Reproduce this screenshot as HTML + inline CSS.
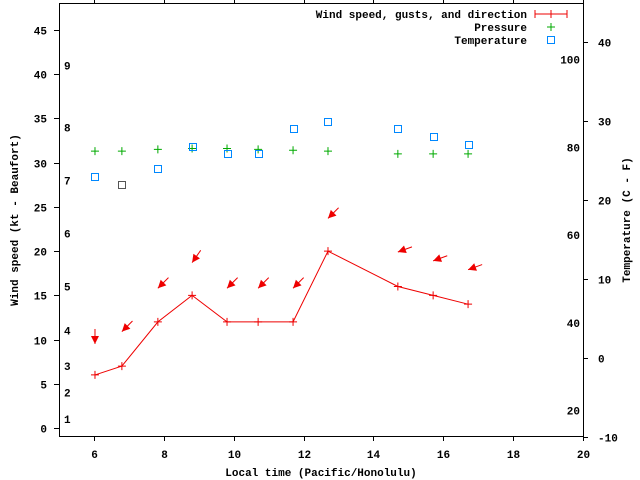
<!DOCTYPE html>
<html><head><meta charset="utf-8"><style>
body{margin:0;background:#fff}
svg{display:block}
text{font-family:"Liberation Mono",monospace;font-weight:bold;font-size:11px;fill:#000}
</style></head><body>
<svg id="chart" width="640" height="480">
<g id="axes"></g>
<g id="marks"></g>
<g id="legend">
<text x="527" y="18" text-anchor="end">Wind speed, gusts, and direction</text>
<line x1="535" y1="14" x2="567" y2="14" stroke="#e00"/>
<line x1="535" y1="10" x2="535" y2="18" stroke="#e00"/>
<line x1="567" y1="10" x2="567" y2="18" stroke="#e00"/>
<line x1="551" y1="10" x2="551" y2="18" stroke="#e00"/>
<text x="527" y="31" text-anchor="end">Pressure</text>
<path d="M547 27h8M551 23v8" stroke="#0a0"/>
<text x="527" y="44" text-anchor="end">Temperature</text>
<rect x="547.5" y="36.5" width="7" height="7" fill="none" stroke="#08f"/>
</g>
<text x="321" y="476" text-anchor="middle">Local time (Pacific/Honolulu)</text>
<text transform="translate(18,220) rotate(-90)" text-anchor="middle">Wind speed (kt - Beaufort)</text>
<text transform="translate(630,220) rotate(-90)" text-anchor="middle">Temperature (C - F)</text>
</svg>
<script>
const times=[6.03,6.8,7.83,8.81,9.81,10.7,11.7,12.7,14.7,15.71,16.71];
const windSpeed=[6,7,12,15,12,12,12,20,16,15,14];
const gusts=[9.5,10.9,15.8,18.7,15.8,15.8,15.8,23.7,19.9,18.9,17.9];
const windDir=[0,45,45,35,45,45,45,45,70,70,70];
const pressure=[31.3,31.3,31.5,31.6,31.6,31.5,31.4,31.3,31.0,31.0,31.0];
const tempC=[23.0,22.0,24.0,26.8,25.9,25.9,29.0,30.0,29.0,28.0,27.0];
const xTicks=[6,8,10,12,14,16,18,20];
const yTicks=[0,5,10,15,20,25,30,35,40,45];
const cTicks=[-10,0,10,20,30,40];
const fTicks=[20,40,60,80,100];
const bft=[1,2,3,4,5,6,7,8,9];
const bftKt=[1.0,4.0,7.0,11.0,16.0,22.0,28.0,34.0,41.0];

const L=59,R=583,T=3,B=436;
const X=v=>L+(v-5)*(R-L)/15;
const Y=v=>428-v*8.844;
const YC=c=>358-c*7.9;
const YF=f=>YC((f-32)*5/9);
const NS='http://www.w3.org/2000/svg';
function mk(p,tag,attrs){const e=document.createElementNS(NS,tag);for(const k in attrs)e.setAttribute(k,attrs[k]);p.appendChild(e);return e;}
const ax=document.getElementById('axes'),mg=document.getElementById('marks');

const frame=mk(ax,'rect',{x:L+.5,y:T+.5,width:R-L,height:B-T,fill:'none',stroke:'#000'});


xTicks.forEach(v=>{const x=Math.round(X(v))+.5;
 mk(ax,'line',{x1:x,y1:B,x2:x,y2:B+5,stroke:'#000'});
 mk(ax,'line',{x1:x,y1:T,x2:x,y2:T-5,stroke:'#000'});
 const t=mk(ax,'text',{x:x,y:B+22,'text-anchor':'middle'});t.textContent=v;
 
 });
yTicks.forEach(v=>{const y=Math.round(Y(v))+.5;
 mk(ax,'line',{x1:L-5,y1:y,x2:L,y2:y,stroke:'#000'});
 const t=mk(ax,'text',{x:L-12,y:y+4,'text-anchor':'end'});t.textContent=v;
 
 });
cTicks.forEach(v=>{const y=Math.round(YC(v))+.5;
 mk(ax,'line',{x1:R,y1:y,x2:R+5,y2:y,stroke:'#000'});
 const t=mk(ax,'text',{x:R+15,y:y+4,'text-anchor':'start'});t.textContent=v;
 
 });
fTicks.forEach(v=>{const t=mk(ax,'text',{x:580,y:YF(v)+4,'text-anchor':'end'});t.textContent=v;
 
 });
bft.forEach((b,i)=>{const t=mk(ax,'text',{x:64,y:Y(bftKt[i])+4});t.textContent=b;
 
 });

// wind line
const pl=mk(mg,'polyline',{points:times.map((t,i)=>X(t)+','+Y(windSpeed[i])).join(' '),fill:'none',stroke:'#e00'});


times.forEach((t,i)=>{
 const x=X(t),y=Y(windSpeed[i]);
 const p=mk(mg,'path',{d:`M${x-4} ${y}h8M${x} ${y-4}v8`,stroke:'#e00'});
 
 
 // gust arrow
 const gx=X(t),gy=Y(gusts[i]);const a=windDir[i]*Math.PI/180;
 const dx=Math.sin(a),dy=-Math.cos(a),len=15;
 const tx=gx+dx*len,ty=gy+dy*len;
 const g=mk(mg,'g',{});
 
 
 mk(g,'line',{x1:tx,y1:ty,x2:gx,y2:gy,stroke:'#e00'});
 const px=-dy,py=dx,h=8,w=4;
 mk(g,'polygon',{points:`${gx},${gy} ${gx+dx*h+px*w},${gy+dy*h+py*w} ${gx+dx*h-px*w},${gy+dy*h-py*w}`,fill:'#e00'});
 // pressure
 const py2=Y(pressure[i]);
 const pp=mk(mg,'path',{d:`M${x-4} ${py2}h8M${x} ${py2-4}v8`,stroke:'#0a0'});
 
 
 // temperature
 const ty2=YC(tempC[i]);
 const r=mk(mg,'rect',{x:Math.round(x-3.5)+.5,y:Math.round(ty2-3.5)+.5,width:7,height:7,fill:'none',stroke:i==1?'#555':'#08f'});
 
 
});
</script>
</body></html>
